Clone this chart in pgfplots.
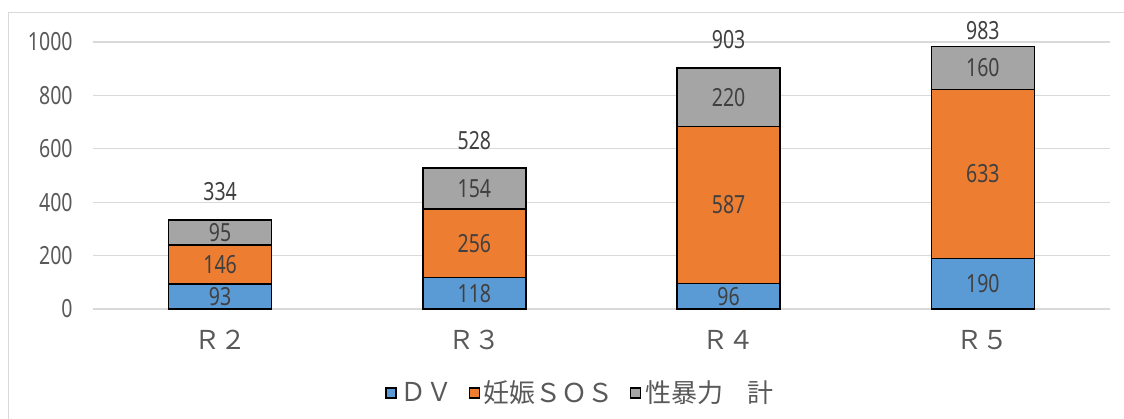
\documentclass[border=0pt]{standalone}
\usepackage{fontspec}
\setmainfont{Noto Sans CJK JP}
\newfontfamily\numfont[FakeStretch=0.78]{Noto Sans}
\usepackage{pgfplots}
\usepackage{pgfplotstable}
\pgfplotsset{compat=1.18}
\definecolor{dvblue}{HTML}{5B9BD5}
\definecolor{sosorange}{HTML}{ED7D31}
\definecolor{svgray}{HTML}{A5A5A5}
\definecolor{txtgray}{HTML}{595959}
\definecolor{lblgray}{HTML}{404040}
\definecolor{gridgray}{HTML}{D9D9D9}
\pgfplotstableread{
x dv sos sv total
0 93 146 95 334
1 118 256 154 528
2 96 587 220 903
3 190 633 160 983
}\data
\pgfplotstableread{
x total
0 334
1 528
2 903
}\totalsA
\pgfplotstableread{
x total
3 983
}\totalsB
\begin{document}
\begin{tikzpicture}
\useasboundingbox (0,0) rectangle (562pt,209pt);
\draw[gridgray, line width=0.6pt] (4.25pt,-5pt) -- (4.25pt,202.75pt) -- (570pt,202.75pt);
\pgfplotsset{
  common/.style={
    at={(46.5pt,54.5pt)}, anchor=south west,
    scale only axis, width=508.5pt, height=133.5pt,
    xmin=-0.5, xmax=3.5, ymin=0, ymax=1000,
    /pgf/number format/assume math mode=true,
    /pgf/number format/1000 sep={},
  },
}
\begin{axis}[
  common,
  ybar stacked, bar width=51.5pt,
  xtick={0,1,2,3}, xticklabels={Ｒ２,Ｒ３,Ｒ４,Ｒ５},
  ytick={0,200,400,600,800,1000},
  ymajorgrids, grid style={gridgray, line width=0.65pt},
  axis line style={draw=none},
  major tick length=0pt,
  yticklabel style={font=\numfont\fontsize{12.5}{14}\selectfont, text=txtgray, anchor=east, inner sep=0pt, xshift=-10pt},
  xticklabel style={font=\fontsize{13}{15}\selectfont, text=txtgray, anchor=center, inner sep=0pt, yshift=-15.5pt},
  every node near coord/.append style={font=\numfont\fontsize{12.5}{14}\selectfont, text=lblgray, anchor=center},
  legend columns=4,
  legend style={at={(axis description cs:0,0)}, anchor=west, xshift=143pt, yshift=-42pt, draw=none, fill=none,
    font=\fontsize{13}{15}\selectfont, text=txtgray,
    /tikz/every even column/.append style={column sep=6pt}},
  legend image code/.code={\draw[#1, draw=black, line width=0.6pt] (0pt,-2.5pt) rectangle (5pt,2.5pt);},
]
\addplot[fill=dvblue, draw=black, line width=0.75pt,
  nodes near coords, point meta=explicit]
  table[x=x, y=dv, meta=dv]{\data};
\addplot[fill=sosorange, draw=black, line width=0.75pt,
  nodes near coords, point meta=explicit]
  table[x=x, y=sos, meta=sos]{\data};
\addplot[fill=svgray, draw=black, line width=0.75pt,
  nodes near coords, point meta=explicit]
  table[x=x, y=sv, meta=sv]{\data};
\addlegendimage{empty legend}
\legend{ＤＶ,妊娠ＳＯＳ,性暴力,\hspace{2pt}計}
\end{axis}
\begin{axis}[
  common, hide axis,
  every node near coord/.append style={font=\numfont\fontsize{12.5}{14}\selectfont, text=lblgray, anchor=base},
]
\addplot[only marks, mark=none, nodes near coords, point meta=explicit,
  every node near coord/.append style={yshift=9.5pt}]
  table[x=x, y=total, meta=total]{\totalsA};
\addplot[only marks, mark=none, nodes near coords, point meta=explicit,
  every node near coord/.append style={yshift=3.5pt}]
  table[x=x, y=total, meta=total]{\totalsB};
\end{axis}
\end{tikzpicture}
\end{document}
